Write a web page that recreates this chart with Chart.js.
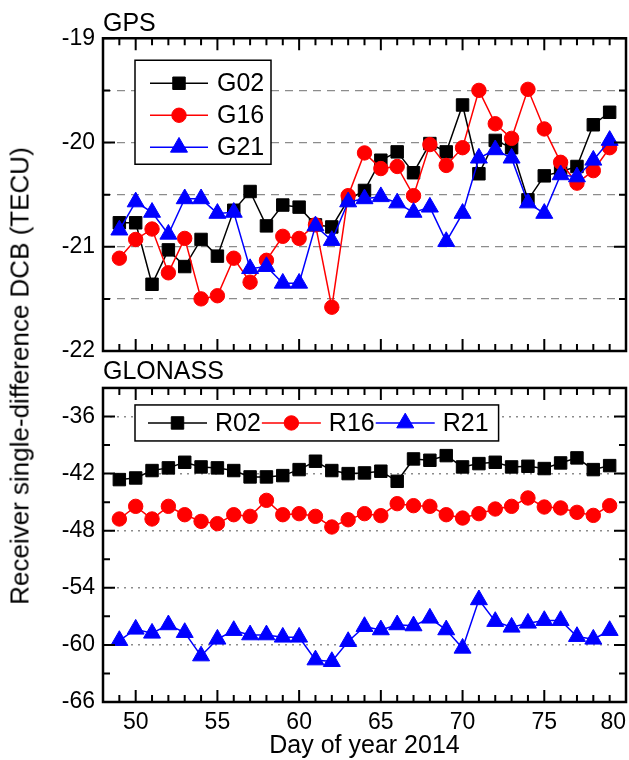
<!DOCTYPE html>
<html lang="en">
<head>
<meta charset="UTF-8">
<title>Receiver single-difference DCB</title>
<script src="https://cdn.jsdelivr.net/npm/chart.js"></script>
<style>
  body { margin: 0; background: #fff; }
  #wrap { position: relative; width: 629px; height: 760px; overflow: hidden; }
  canvas { position: absolute; left: 0; }
  #gps { top: 0; }
  #glo { top: 355px; }
  #ytitle {
    position: absolute; left: 20px; top: 376px;
    transform: translate(-50%, -50%) rotate(-90deg);
    white-space: nowrap; color: #000;
    font: 26px 'Liberation Sans', Arial, sans-serif;
  }
</style>
</head>
<body>
<div id="wrap">
  <canvas id="gps" width="629" height="380"></canvas>
  <canvas id="glo" width="629" height="405"></canvas>
  <div id="ytitle">Receiver single-difference DCB (TECU)</div>
</div>
<script>
// day of year 2014
const days = [49, 50, 51, 52, 53, 54, 55, 56, 57, 58, 59, 60, 61, 62, 63, 64,
              65, 66, 67, 68, 69, 70, 71, 72, 73, 74, 75, 76, 77, 78, 79];

// GPS satellites (TECU)
const G02 = [-20.77, -20.77, -21.36, -21.03, -21.19, -20.93, -21.09, -20.65, -20.47, -20.80, -20.60,
             -20.62, -20.79, -20.81, -20.55, -20.46, -20.17, -20.09, -20.29, -20.01, -20.09, -19.64,
             -20.30, -19.98, -20.05, -20.55, -20.32, -20.28, -20.23, -19.83, -19.71];
const G16 = [-21.11, -20.93, -20.83, -21.25, -20.92, -21.50, -21.47, -21.11, -21.34, -21.13, -20.90,
             -20.92, -20.79, -21.58, -20.51, -20.10, -20.25, -20.23, -20.51, -20.02, -20.22, -20.05,
             -19.50, -19.82, -19.96, -19.49, -19.87, -20.19, -20.39, -20.27, -20.05];
const G21 = [-20.84, -20.57, -20.67, -20.88, -20.54, -20.54, -20.68, -20.67, -21.21, -21.19, -21.35,
             -21.35, -20.80, -20.94, -20.57, -20.54, -20.52, -20.58, -20.67, -20.62, -20.95, -20.68,
             -20.15, -20.07, -20.15, -20.58, -20.68, -20.31, -20.33, -20.17, -19.98];

// GLONASS satellites (TECU)
const R02 = [-42.63, -42.46, -41.68, -41.40, -40.81, -41.30, -41.40, -41.68, -42.35, -42.35, -42.21,
             -41.58, -40.70, -41.68, -42.00, -41.93, -41.75, -42.81, -40.46, -40.60, -40.11, -41.30,
             -40.95, -40.81, -41.30, -41.23, -41.47, -40.88, -40.35, -41.58, -41.16];
const R16 = [-46.77, -45.44, -46.77, -45.44, -46.32, -47.02, -47.26, -46.32, -46.49, -44.81, -46.32,
             -46.21, -46.49, -47.61, -46.85, -46.21, -46.42, -45.16, -45.37, -45.44, -46.32, -46.67,
             -46.21, -45.72, -45.44, -44.56, -45.51, -45.61, -46.07, -46.39, -45.37];
const R21 = [-59.54, -58.35, -58.77, -57.89, -58.70, -61.16, -59.40, -58.49, -58.95, -58.95, -59.19,
             -59.19, -61.58, -61.75, -59.65, -58.07, -58.42, -57.89, -58.00, -57.19, -58.42, -60.35,
             -55.26, -57.54, -58.14, -57.72, -57.44, -57.44, -59.12, -59.40, -58.49];

const FONT = "'Liberation Sans', Arial, sans-serif";
Chart.defaults.font.family = FONT;
Chart.defaults.color = '#000';

function drawMarker(ctx, style, x, y, r, color) {
    ctx.fillStyle = color;
    ctx.strokeStyle = color;
    ctx.lineWidth = 1;
    ctx.beginPath();
    if (style === 'rect') {
        const s = r / Math.SQRT2;
        ctx.rect(x - s, y - s, 2 * s, 2 * s);
    } else if (style === 'circle') {
        ctx.arc(x, y, r, 0, Math.PI * 2);
    } else {
        const k = Math.sin(2 * Math.PI / 3) * r;
        ctx.moveTo(x, y - r);
        ctx.lineTo(x + k, y + r / 2);
        ctx.lineTo(x - k, y + r / 2);
        ctx.closePath();
    }
    ctx.fill();
    ctx.stroke();
}

// frame + inward tick marks (major / minor)
const framePlugin = {
    id: 'frame',
    afterDraw(chart, args, opts) {
        const {ctx, chartArea: a} = chart;
        const x = chart.scales.x, y = chart.scales.y;
        ctx.save();
        ctx.strokeStyle = '#000';
        ctx.lineWidth = 2;
        ctx.beginPath();
        for (let d = x.min; d <= x.max; d++) {
            const px = x.getPixelForValue(d);
            const len = d % 5 === 0 ? 12 : 7;
            ctx.moveTo(px, a.top); ctx.lineTo(px, a.top + len);
            ctx.moveTo(px, a.bottom); ctx.lineTo(px, a.bottom - len);
        }
        for (let v = y.min; v <= y.max + 1e-9; v += opts.minor) {
            const py = y.getPixelForValue(v);
            const major = Math.abs(Math.round(v / opts.major) * opts.major - v) < 1e-9;
            const len = major ? 12 : 7;
            ctx.moveTo(a.left, py); ctx.lineTo(a.left + len, py);
            ctx.moveTo(a.right, py); ctx.lineTo(a.right - len, py);
        }
        ctx.stroke();
        ctx.lineWidth = 2.5;
        ctx.strokeRect(a.left, a.top, a.right - a.left, a.bottom - a.top);
        ctx.restore();
    }
};

// boxed legend with line + symbol samples
const legendPlugin = {
    id: 'boxLegend',
    afterDraw(chart, args, opts) {
        const {ctx, chartArea: a} = chart;
        const sets = chart.data.datasets;
        ctx.save();
        ctx.font = '25px ' + FONT;
        ctx.textBaseline = 'middle';
        const bx = a.left + opts.dx, by = a.top + opts.dy;
        let bw = opts.w;
        if (opts.mode === 'h') {
            let w = opts.pad;
            sets.forEach((s, i) => {
                w += opts.lineLen + opts.textGap + ctx.measureText(s.label).width;
                if (i < sets.length - 1) w += opts.after;
            });
            bw = w + opts.endPad;
        }
        ctx.fillStyle = '#fff';
        ctx.fillRect(bx, by, bw, opts.h);
        ctx.strokeStyle = '#000';
        ctx.lineWidth = 1.5;
        ctx.strokeRect(bx, by, bw, opts.h);

        let cx = bx + opts.pad;
        sets.forEach((s, i) => {
            let lx, ly;
            if (opts.mode === 'v') {
                lx = bx + opts.pad;
                ly = by + opts.first + i * opts.step;
            } else {
                lx = cx;
                ly = by + opts.h / 2;
            }
            ctx.strokeStyle = s.borderColor;
            ctx.lineWidth = 1.5;
            ctx.beginPath();
            ctx.moveTo(lx, ly);
            ctx.lineTo(lx + opts.lineLen, ly);
            ctx.stroke();
            drawMarker(ctx, s.pointStyle, lx + opts.lineLen / 2, ly, s.pointRadius, s.borderColor);
            ctx.fillStyle = '#000';
            const tx = lx + opts.lineLen + opts.textGap;
            ctx.fillText(s.label, tx, ly + 1);
            cx = tx + ctx.measureText(s.label).width + opts.after;
        });
        ctx.restore();
    }
};

function series(label, values, color, style, radius, order) {
    return {
        label: label,
        data: days.map((d, i) => ({x: d, y: values[i]})),
        borderColor: color,
        backgroundColor: color,
        borderWidth: 1.5,
        pointStyle: style,
        pointRadius: radius,
        pointHoverRadius: radius,
        pointBorderWidth: 1,
        pointBackgroundColor: color,
        tension: 0,
        fill: false,
        order: order
    };
}

const gpsChart = new Chart(document.getElementById('gps'), {
    type: 'line',
    data: {
        datasets: [
            series('G02', G02, '#000000', 'rect', 8.8, 3),
            series('G16', G16, '#ff0000', 'circle', 7.2, 2),
            series('G21', G21, '#0000ff', 'triangle', 9.8, 1)
        ]
    },
    options: {
        responsive: false,
        animation: false,
        events: [],
        layout: {autoPadding: false, padding: {top: 0, left: 0, right: 3, bottom: 29}},
        plugins: {
            legend: {display: false},
            tooltip: {enabled: false},
            title: {
                display: true, text: 'GPS', align: 'start', fullSize: false, color: '#000',
                font: {size: 25, weight: 'normal', lineHeight: 1.15},
                padding: {top: 9.5, bottom: 0}
            },
            frame: {major: 1, minor: 0.5},
            boxLegend: {mode: 'v', dx: 32, dy: 22, w: 136, h: 104, pad: 15, first: 23, step: 32,
                        lineLen: 58, textGap: 9, after: 0}
        },
        scales: {
            x: {type: 'linear', min: 48, max: 80, display: false},
            y: {
                min: -22, max: -19,
                afterFit: s => { s.width = 103; },
                ticks: {
                    stepSize: 0.5, padding: 8, font: {size: 23},
                    callback: v => Number.isInteger(v) ? String(v) : ''
                },
                grid: {
                    drawTicks: false, lineWidth: 1.3,
                    color: c => (c.tick && c.tick.value > -22 && c.tick.value < -19) ? '#8c8c8c' : 'rgba(0,0,0,0)'
                },
                border: {display: false, dash: [8, 6]}
            }
        }
    },
    plugins: [framePlugin, legendPlugin]
});

const gloChart = new Chart(document.getElementById('glo'), {
    type: 'line',
    data: {
        datasets: [
            series('R02', R02, '#000000', 'rect', 8.8, 3),
            series('R16', R16, '#ff0000', 'circle', 7.2, 2),
            series('R21', R21, '#0000ff', 'triangle', 9.8, 1)
        ]
    },
    options: {
        responsive: false,
        animation: false,
        events: [],
        layout: {autoPadding: false, padding: {top: 0, left: 0, right: 3, bottom: 0}},
        plugins: {
            legend: {display: false},
            tooltip: {enabled: false},
            title: {
                display: true, text: 'GLONASS', align: 'start', fullSize: false, color: '#000',
                font: {size: 25, weight: 'normal', lineHeight: 1.15},
                padding: {top: 2.6, bottom: 1.6}
            },
            frame: {major: 6, minor: 3},
            boxLegend: {mode: 'h', dx: 32, dy: 17, h: 36, pad: 13, lineLen: 59, textGap: 8,
                        after: 1, endPad: 10}
        },
        scales: {
            x: {
                type: 'linear', min: 48, max: 80,
                afterFit: s => { s.height = 58; },
                ticks: {
                    stepSize: 1, autoSkip: false, maxRotation: 0, minRotation: 0,
                    align: 'inner', padding: 0, font: {size: 23},
                    callback: v => v % 5 === 0 ? String(v) : ''
                },
                grid: {display: false, drawTicks: true, tickLength: 7},
                border: {display: false},
                title: {
                    display: true, text: 'Day of year 2014', color: '#000',
                    font: {size: 25, lineHeight: 1.1}, padding: {top: 0, bottom: 0}
                }
            },
            y: {
                min: -66, max: -33,
                afterFit: s => { s.width = 103; },
                ticks: {
                    stepSize: 3, padding: 8, font: {size: 23},
                    callback: v => (v % 6 === 0) ? String(v) : ''
                },
                grid: {
                    drawTicks: false, lineWidth: 1.5,
                    color: c => (c.tick && c.tick.value % 6 === 0 && c.tick.value > -66) ? '#8c8c8c' : 'rgba(0,0,0,0)'
                },
                border: {display: false, dash: [2, 5]}
            }
        }
    },
    plugins: [framePlugin, legendPlugin]
});
</script>
</body>
</html>
